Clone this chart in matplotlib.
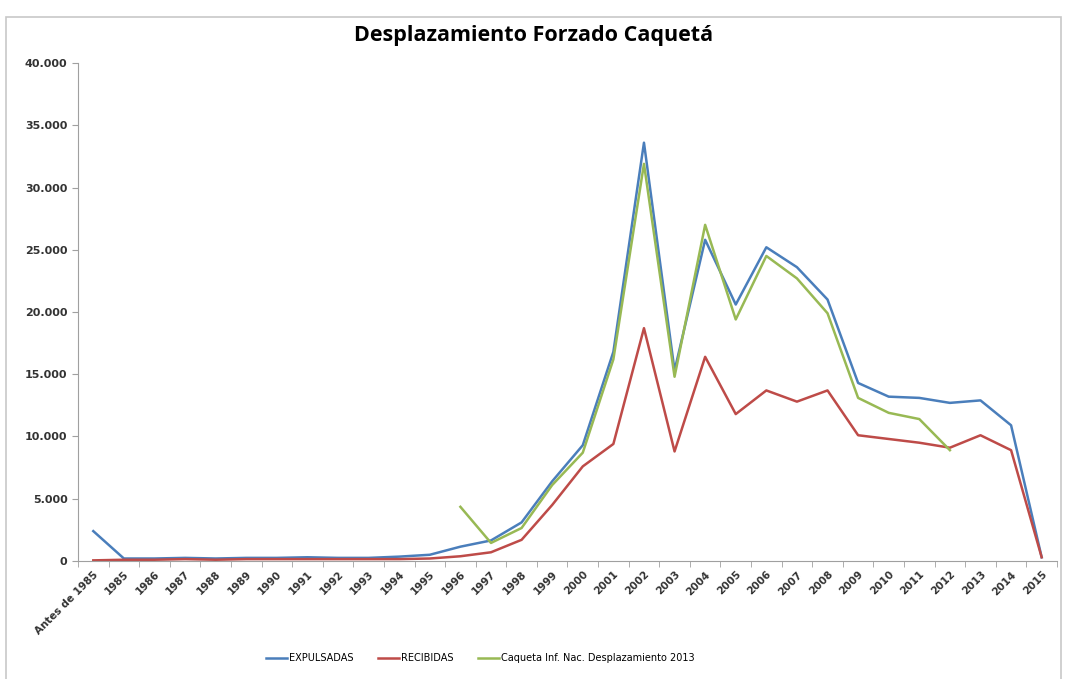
import matplotlib
matplotlib.use("Agg")
import matplotlib.pyplot as plt
from matplotlib.patches import Rectangle
from matplotlib.ticker import FuncFormatter
import numpy as np

years = ["Antes de 1985"] + [str(y) for y in range(1985, 2016)]

expulsadas = [2400, 200, 200, 250, 200, 250, 250, 300, 250, 250, 350, 500,
              1150, 1650, 3100, 6400, 9300, 16800, 33600, 15300, 25800, 20600,
              25200, 23600, 21000, 14300, 13200, 13100, 12700, 12900, 10900, 300]

recibidas = [50, 100, 100, 150, 100, 150, 150, 150, 150, 150, 150, 200,
             380, 700, 1700, 4500, 7600, 9400, 18700, 8800, 16400, 11800,
             13700, 12800, 13700, 10100, 9800, 9500, 9100, 10100, 8900, 300]

# informe nacional 2013, solo 1996-2012
caqueta_2013 = [None] * 12 + [4350, 1450, 2650, 6100, 8700, 16200, 31900, 14800,
                             27000, 19400, 24500, 22700, 19900, 13100, 11900,
                             11400, 8900] + [None] * 3

fig = plt.figure(figsize=(10.67, 6.79), dpi=100)
fig.patches.append(Rectangle((0.006, -0.01), 0.988, 0.985, transform=fig.transFigure,
                             fill=False, edgecolor="#c8c8c8", linewidth=1.2))

ax = fig.add_axes([0.0731, 0.1738, 0.9175, 0.7334])
x = np.arange(len(years))

def to_arr(vals):
    return np.array([np.nan if v is None else v for v in vals], dtype=float)

ax.plot(x, to_arr(expulsadas), color="#4A7EBB", lw=1.8, label="EXPULSADAS")
ax.plot(x, to_arr(recibidas), color="#BE4B48", lw=1.8, label="RECIBIDAS")
ax.plot(x, to_arr(caqueta_2013), color="#98B954", lw=1.8,
        label="Caqueta Inf. Nac. Desplazamiento 2013")

ax.set_xlim(-0.5, len(years) - 0.5)
ax.set_ylim(0, 40000)
ax.set_yticks(np.arange(0, 40001, 5000))
ax.yaxis.set_major_formatter(FuncFormatter(lambda v, p: f"{int(v):,}".replace(",", ".")))

ax.set_xticks(x)
ax.set_xticklabels(years, rotation=45, ha="right", rotation_mode="anchor",
                   fontsize=7.5, fontweight="semibold", color="#333333")
ax.set_xticks(np.arange(-0.5, len(years), 1), minor=True)
ax.tick_params(axis="x", which="major", length=0, pad=6)
ax.tick_params(axis="x", which="minor", length=4, color="#a0a0a0")
ax.tick_params(axis="y", length=4, color="#a0a0a0", labelsize=8, labelcolor="#333333")
for t in ax.get_yticklabels():
    t.set_fontweight("semibold")

for s in ["top", "right"]:
    ax.spines[s].set_visible(False)
for s in ["left", "bottom"]:
    ax.spines[s].set_color("#a0a0a0")

fig.text(0.5, 0.947, "Desplazamiento Forzado Caquetá", ha="center", va="center",
         fontsize=15.5, fontweight="bold", family="Open Sans")

fig.legend(loc="center", bbox_to_anchor=(0.45, 0.031), ncol=3, frameon=False,
           fontsize=7, handlelength=2.2, handletextpad=0.2, columnspacing=2.5)

fig.savefig("out.png", dpi=100)
